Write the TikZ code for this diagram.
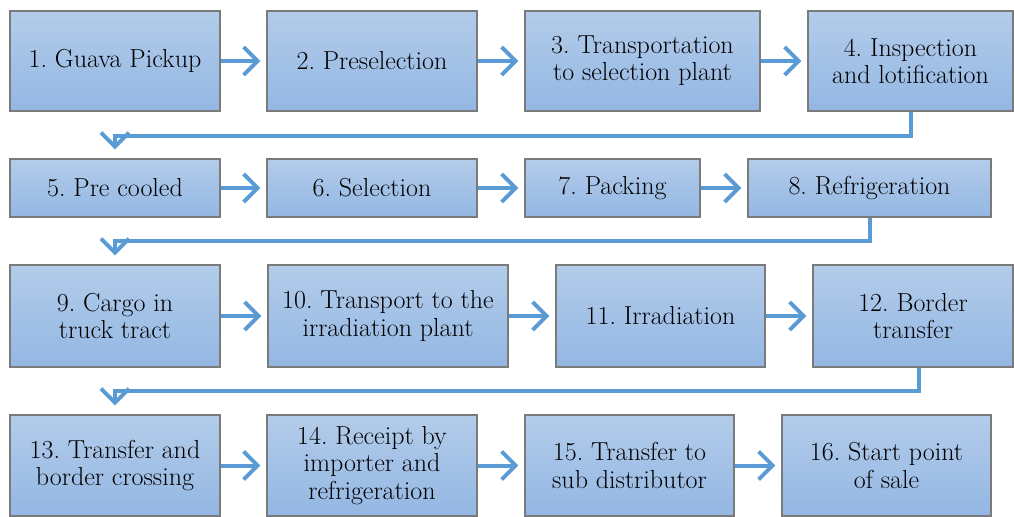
\documentclass[tikz,border=0pt]{standalone}
\usetikzlibrary{arrows.meta}
\definecolor{boxtop}{HTML}{B3CCEA}
\definecolor{boxbot}{HTML}{93B7E3}
\definecolor{boxline}{HTML}{7A7A7A}
\definecolor{flowblue}{HTML}{5B9BD5}
\frenchspacing

\begin{document}
\begin{tikzpicture}[x=0.75pt, y=-0.75pt, every node/.style={font=\fontsize{19.5}{20.5}\selectfont},
  stage/.style={draw=boxline, line width=0.8pt, top color=boxtop, bottom color=boxbot, align=center, inner sep=0pt},
  flow/.style={draw=flowblue, line width=3pt, -{Straight Barb[length=10.5pt,width=21pt]}, shorten >=4.5pt}]
\useasboundingbox (0,0) rectangle (1014,517);
% row 1
\node[stage, minimum width=157.5pt, minimum height=75pt] (s1) at (115,61) {1. Guava Pickup};
\node[stage, minimum width=157.5pt, minimum height=75pt] (s2) at (372,61) {2. Preselection};
\node[stage, minimum width=176.25pt, minimum height=75pt] (s3) at (642.5,61) {3. Transportation\\to selection plant};
\node[stage, minimum width=153.75pt, minimum height=75pt] (s4) at (910.5,61) {4. Inspection\\and lotification};
% row 2
\node[stage, minimum width=157.5pt, minimum height=43.5pt] (s5) at (115,188) {5. Pre cooled};
\node[stage, minimum width=157.5pt, minimum height=43.5pt] (s6) at (372,188) {6. Selection};
\node[stage, minimum width=131.25pt, minimum height=43.5pt] (s7) at (612.5,188) {7. Packing};
\node[stage, minimum width=182.25pt, minimum height=43.5pt] (s8) at (869.5,188) {8. Refrigeration};
% row 3
\node[stage, minimum width=157.5pt, minimum height=76.5pt] (s9) at (115,316) {9. Cargo in\\truck tract};
\node[stage, minimum width=180pt, minimum height=76.5pt] (s10) at (388,316) {10. Transport to the\\irradiation plant};
\node[stage, minimum width=156.75pt, minimum height=76.5pt] (s11) at (660.5,316) {11. Irradiation};
\node[stage, minimum width=150pt, minimum height=76.5pt] (s12) at (913,316) {12. Border\\transfer};
% row 4
\node[stage, minimum width=157.5pt, minimum height=75.75pt] (s13) at (115,465.5) {13. Transfer and\\border crossing};
\node[stage, minimum width=157.5pt, minimum height=75.75pt] (s14) at (372,465.5) {14. Receipt by\\importer and\\refrigeration};
\node[stage, minimum width=156.75pt, minimum height=75.75pt] (s15) at (629.5,465.5) {15. Transfer to\\sub distributor};
\node[stage, minimum width=156.75pt, minimum height=75.75pt] (s16) at (886.5,465.5) {16. Start point\\of sale};
% arrows
\draw[flow] (s1) -- (s2); \draw[flow] (s2) -- (s3); \draw[flow] (s3) -- (s4);
\draw[flow] (s5) -- (s6); \draw[flow] (s6) -- (s7); \draw[flow] (s7) -- (s8);
\draw[flow] (s9) -- (s10); \draw[flow] (s10) -- (s11); \draw[flow] (s11) -- (s12);
\draw[flow] (s13) -- (s14); \draw[flow] (s14) -- (s15); \draw[flow] (s15) -- (s16);
\draw[flow, shorten >=6.75pt] (s4.south) -- ++(0,24) -| (s5.north);
\draw[flow, shorten >=6.75pt] (s8.south) -- ++(0,23) -| (s9.north);
\draw[flow, shorten >=6.75pt] ([xshift=4.5pt]s12.south) -- ++(0,23) -| (s13.north);
\end{tikzpicture}
\end{document}
